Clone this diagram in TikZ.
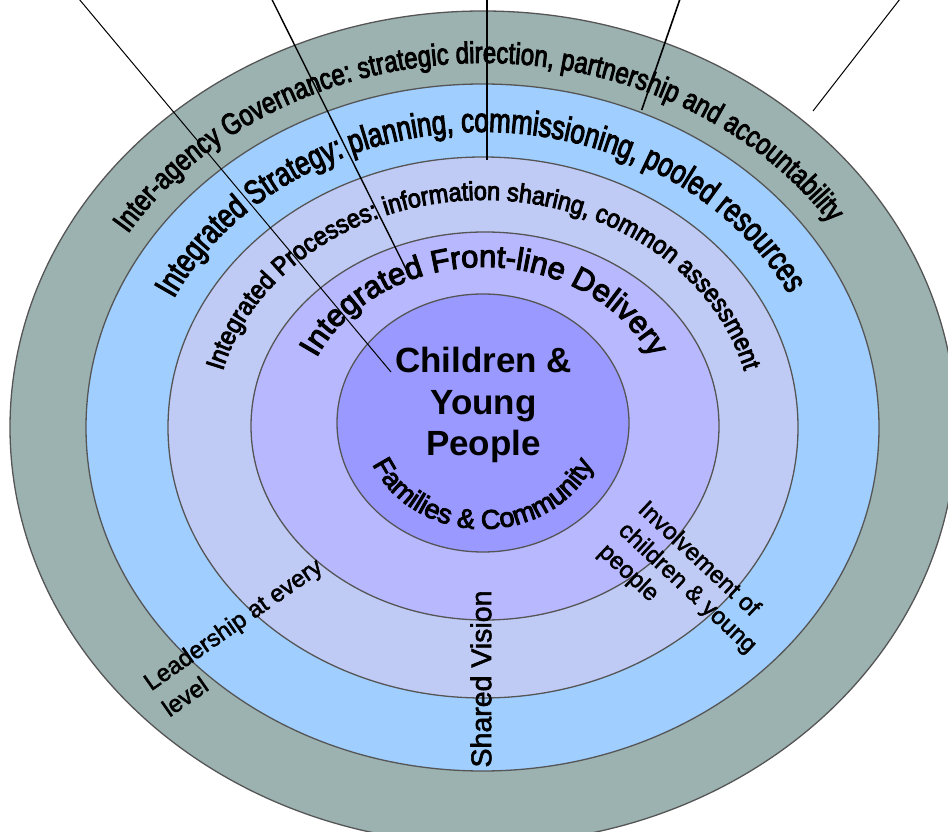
\documentclass[tikz,border=0pt]{standalone}
\usepackage{fontspec}
\setmainfont{Liberation Sans}
\newfontfamily\arcA[FakeStretch=0.80,FakeBold=3]{Liberation Sans}
\newfontfamily\arcB[FakeStretch=0.76,FakeBold=3]{Liberation Sans}
\newfontfamily\arcC[FakeStretch=0.90,FakeBold=3.5]{Liberation Sans}
\newfontfamily\arcD[FakeBold=3.5]{Liberation Sans}
\newfontfamily\labfont[FakeBold=2]{Liberation Sans}
\usetikzlibrary{decorations.text}
\definecolor{cOuter}{HTML}{9BB2B0}
\definecolor{cStrat}{HTML}{A0CFFF}
\definecolor{cProc}{HTML}{C0CBF5}
\definecolor{cFront}{HTML}{B8B8FF}
\definecolor{cCore}{HTML}{9999FF}
\definecolor{cEdge}{HTML}{555555}
\begin{document}
\begin{tikzpicture}[x=1pt,y=1pt,
  ring/.style={draw=cEdge, line width=1.3pt},
  pointer/.style={draw=black, line width=1.2pt},
  flat/.style={inner sep=0pt, align=left, font=\labfont\fontsize{24}{29}\selectfont}]
\useasboundingbox (0,0) rectangle (948,831);
\begin{scope}
\clip (0,0) rectangle (948,831);
% rings
\path[ring, fill=cOuter] (483,403.5) ellipse [x radius=473, y radius=416.5];
\path[ring, fill=cStrat] (482.5,403.5) ellipse [x radius=396.5, y radius=343.5];
\path[ring, fill=cProc] (483,403.5) ellipse [x radius=315, y radius=270.5];
\path[ring, fill=cFront] (485,405) ellipse [x radius=234, y radius=194];
\path[ring, fill=cCore] (483,408) ellipse [x radius=146, y radius=129];

% curved texts
\path[decorate, decoration={text along path, text align=center,
  text={|\arcA\fontsize{30}{30}\selectfont|Inter-agency Governance: strategic direction, partnership and accountability}}]
  ([shift={(483,403.5)}]150:419 and 364.5) arc[start angle=150, end angle=32, x radius=419, y radius=364.5];
\path[decorate, decoration={text along path, text align=center,
  text={|\arcB\fontsize{34}{34}\selectfont|Integrated Strategy: planning, commissioning, pooled resources}}]
  ([shift={(482.5,403.5)}]157:343 and 295.5) arc[start angle=157, end angle=24, x radius=343, y radius=295.5];
\path[decorate, decoration={text along path, text align=center,
  text={|\arcC\fontsize{26}{26}\selectfont|Integrated Processes: information sharing, common assessment}}]
  ([shift={(483.5,404)}]168:269 and 227) arc[start angle=168, end angle=12, x radius=269, y radius=227];
\path[decorate, decoration={text along path, text align=center,
  text={|\arcD\fontsize{31}{31}\selectfont|Integrated Front-line Delivery}}]
  ([shift={(484,406)}]157:185 and 158) arc[start angle=157, end angle=23, x radius=185, y radius=158];
\path[decorate, decoration={text along path, text align=center,
  text={|\arcD\fontsize{27}{27}\selectfont|Families {\&} Community}}]
  ([shift={(483,408)}]199:120 and 106) arc[start angle=199, end angle=341, x radius=120, y radius=106];

% centre
\node[inner sep=0pt, align=center, font=\bfseries\fontsize{35}{41.5}\selectfont] (cyp) at (483.5,426) {Children \&\\Young\\People};

% straight labels
\node[flat, rotate=35, anchor=north west, font=\labfont\fontsize{24}{32}\selectfont] (lead) at (141,154) {Leadership at every\\level};
\node[flat, rotate=-43, anchor=north west] (invol) at (649,333) {Involvement of\\children \& young\\people};
\node[inner sep=0pt, rotate=90, font=\labfont\fontsize{28.5}{30}\selectfont] (vision) at (481,152) {Shared Vision};

% pointer lines
\coordinate (p1a) at (79,832);   \coordinate (p1b) at (391,459);
\coordinate (p2a) at (271.7,832); \coordinate (p2b) at (408,558);
\coordinate (p3a) at (487,832);  \coordinate (p3b) at (487,671);
\coordinate (p4a) at (680,832);  \coordinate (p4b) at (641.7,721);
\coordinate (p5a) at (900,832);  \coordinate (p5b) at (813,720);
\draw[pointer, line width=1pt] (p1a) -- (p1b);
\draw[pointer, line width=1.4pt] (p2a) -- (p2b);
\draw[pointer, line width=1.4pt] (p3a) -- (p3b);
\draw[pointer, line width=1.6pt] (p4a) -- (p4b);
\draw[pointer, line width=1pt] (p5a) -- (p5b);
\end{scope}
\end{tikzpicture}
\end{document}
